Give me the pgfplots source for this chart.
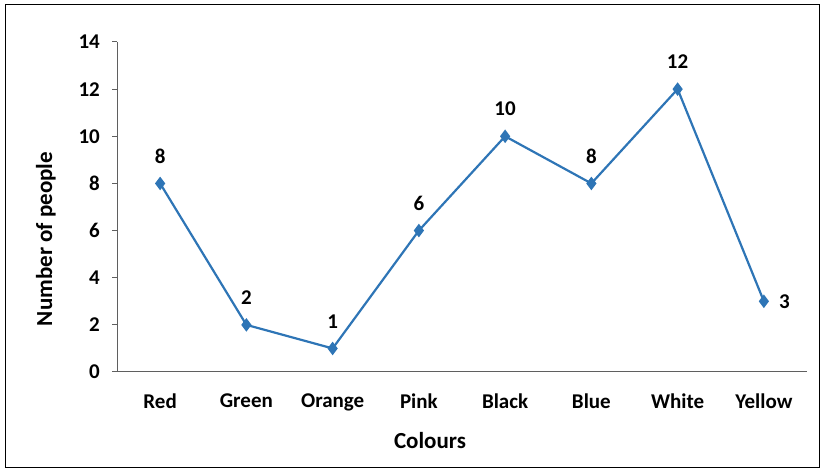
\documentclass[border=0pt]{standalone}
\usepackage{fontspec}
\setmainfont{Carlito}
\usepackage{pgfplots}
\pgfplotsset{compat=1.18}
\definecolor{lineblue}{RGB}{46,117,182}
\definecolor{axgray}{RGB}{95,95,95}
\newcommand\tickfont{\bfseries\fontsize{21bp}{25bp}\selectfont}
\newcommand\labfont{\bfseries\fontsize{23bp}{27bp}\selectfont}
\begin{document}
\begin{tikzpicture}
\useasboundingbox (0bp,0bp) rectangle (825bp,472bp);
\draw[line width=1.8bp] (5.5bp,4.5bp) rectangle (819.5bp,467.5bp);
\begin{axis}[
  at={(117bp,100bp)}, anchor=south west,
  scale only axis, width=690bp, height=330bp,
  xmin=-0.5, xmax=7.5, ymin=0, ymax=14,
  xtick={0,...,7},
  xticklabels={Red,Green,Orange,Pink,Black,Blue,White,Yellow},
  ytick={0,2,...,14},
  axis x line=bottom, axis y line=left,
  axis line style={-, draw=axgray, line width=1bp},
  major x tick style={draw=none},
  major y tick style={draw=axgray, line width=1bp},
  tick align=outside, major tick length=5bp,
  /pgf/number format/assume math mode=true,
  tick label style={font=\tickfont, text=black},
  xticklabel style={anchor=north, inner sep=0pt, yshift=-17bp},
  yticklabel style={anchor=east, inner sep=0pt, xshift=-12bp},
  xlabel={Colours}, ylabel={Number of people},
  xlabel style={font=\labfont, at={(axis description cs:0.4536,-0.209)}, anchor=center},
  ylabel style={font=\labfont, at={(axis description cs:-0.103,0.403)}, anchor=center, rotate=0},
  clip=false,
]
\addplot[lineblue, line width=2.2bp, mark=diamond*, mark size=5bp, mark options={solid, fill=lineblue}]
  coordinates {(0,8)(1,2)(2,1)(3,6)(4,10)(5,8)(6,12)(7,3)};
\addplot[draw=none, mark=none, nodes near coords,
  nodes near coords style={font=\tickfont, text=black, anchor=south, inner sep=0pt, yshift=20bp}]
  coordinates {(0,8)(1,2)(2,1)(3,6)(4,10)(5,8)(6,12)};
\addplot[draw=none, mark=none, nodes near coords,
  nodes near coords style={font=\tickfont, text=black, anchor=west, inner sep=0pt, xshift=15bp}]
  coordinates {(7,3)};
\end{axis}
\end{tikzpicture}
\end{document}
